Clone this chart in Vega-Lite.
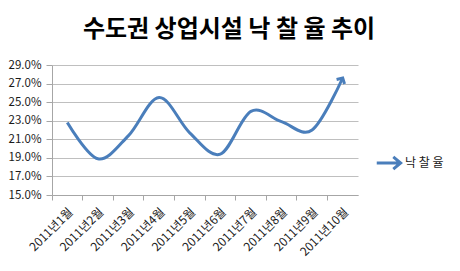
{
  "$schema": "https://vega.github.io/schema/vega-lite/v6.json",
  "autosize": "none",
  "width": 306,
  "height": 130,
  "padding": {"left": 52, "top": 65, "right": 102, "bottom": 76},
  "background": "white",
  "title": {
    "text": "수도권 상업시설 낙 찰 율 추이",
    "font": "Noto Sans CJK KR",
    "fontSize": 24,
    "fontWeight": "bold",
    "color": "#000000",
    "anchor": "middle",
    "dx": 24,
    "offset": 17
  },
  "config": {
    "font": "Noto Sans CJK KR",
    "view": {"stroke": null}
  },
  "data": {
    "values": [
      {"month": "2011년1월", "rate": 0.228},
      {"month": "2011년2월", "rate": 0.189},
      {"month": "2011년3월", "rate": 0.214},
      {"month": "2011년4월", "rate": 0.255},
      {"month": "2011년5월", "rate": 0.217},
      {"month": "2011년6월", "rate": 0.194},
      {"month": "2011년7월", "rate": 0.240},
      {"month": "2011년8월", "rate": 0.229},
      {"month": "2011년9월", "rate": 0.220},
      {"month": "2011년10월", "rate": 0.276}
    ]
  },
  "encoding": {
    "x": {
      "field": "month",
      "type": "ordinal",
      "sort": null,
      "scale": {"type": "band", "paddingInner": 0, "paddingOuter": 0},
      "axis": {
        "title": null,
        "labelAngle": -45,
        "labelFontSize": 12,
        "labelColor": "#1a1a1a",
        "bandPosition": 0,
        "tickSize": 5,
        "tickColor": "#a6a6a6",
        "domainColor": "#a6a6a6",
        "grid": false,
        "labelPadding": 6
      }
    },
    "y": {
      "field": "rate",
      "type": "quantitative",
      "scale": {"domain": [0.15, 0.29], "zero": false, "nice": false},
      "axis": {
        "title": null,
        "values": [0.15, 0.17, 0.19, 0.21, 0.23, 0.25, 0.27, 0.29],
        "format": ".1%",
        "labelFontSize": 11.5,
        "labelColor": "#1a1a1a",
        "gridColor": "#bfbfbf",
        "tickColor": "#a6a6a6",
        "domainColor": "#a6a6a6",
        "tickSize": 6,
        "labelPadding": 5
      }
    },
    "color": {
      "datum": "낙 찰 율",
      "type": "nominal",
      "scale": {"range": ["#4a7ebb"]},
      "legend": {
        "title": null,
        "orient": "none",
        "legendX": 323,
        "legendY": 84,
        "symbolType": "M -1 0 L 0.9 0 M 0.35 -0.5 L 0.95 0 L 0.35 0.5",
        "symbolSize": 600,
        "symbolStrokeWidth": 3,
        "symbolFillColor": "transparent",
        "labelFontSize": 12,
        "labelColor": "#1a1a1a",
        "labelOffset": 2
      }
    }
  },
  "layer": [
    {
      "mark": {"type": "line", "interpolate": "cardinal", "strokeWidth": 3}
    },
    {
      "transform": [{"filter": "datum.month == '2011년10월'"}],
      "mark": {
        "type": "point",
        "shape": "M -0.75 0.7 L 0 0 L 0.75 0.7",
        "size": 150,
        "angle": 30,
        "filled": false,
        "strokeWidth": 3,
        "opacity": 1
      }
    }
  ]
}
